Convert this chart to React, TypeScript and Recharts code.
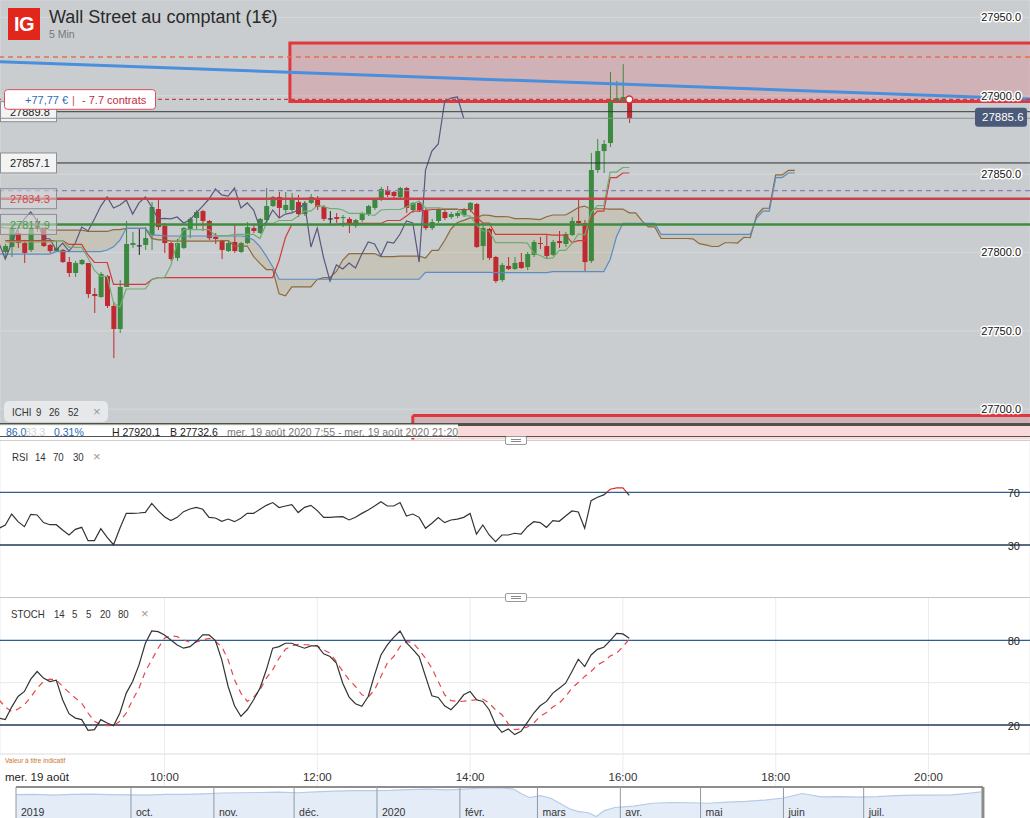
import React from 'react';
import {
  ComposedChart, AreaChart, Area, Bar, Line, XAxis, YAxis, CartesianGrid,
  ReferenceLine, ReferenceArea, ReferenceDot,
} from 'recharts';

const FONT = '"Liberation Sans", Arial, Helvetica, sans-serif';

// ---------- axes ----------
const X0 = -0.8324;
const X1 = 160.94;
const timeTicks = [25, 49, 73, 97, 121, 145];
const timeLabels = ['10:00', '12:00', '14:00', '16:00', '18:00', '20:00'];
const dateLabel = 'mer. 19 août';
const priceTicks = [27700, 27750, 27800, 27850, 27900, 27950];
const PRICE_TOP = 27961.05;
const PRICE_BOTTOM = 27690.26;
const rsiTicks = [30, 70];
const stochTicks = [20, 80];

// ---------- candles (5 min, index 0 = 7:55) ----------
const opens = [
  27800.3, 27803.5, 27812.4, 27806.0, 27801.6, 27819.4, 27815.0, 27804.8, 27800.9, 27801.6,
  27793.9, 27786.9, 27792.6, 27793.3, 27773.5, 27771.6, 27785.0, 27765.9, 27751.2, 27778.0,
  27804.8, 27804.5, 27804.8, 27811.1, 27827.7, 27816.9, 27806.0, 27796.5, 27802.9, 27815.0,
  27822.0, 27826.4, 27820.1, 27809.9, 27807.3, 27800.9, 27806.7, 27800.3, 27806.0, 27815.6,
  27812.4, 27820.7, 27829.6, 27835.4, 27827.1, 27827.1, 27832.2, 27824.5, 27831.6, 27834.1,
  27829.0, 27821.7, 27822.6, 27822.0, 27821.4, 27816.9, 27820.7, 27824.5, 27828.4, 27834.1,
  27839.9, 27838.6, 27835.4, 27841.1, 27827.1, 27831.6, 27827.1, 27815.6, 27820.1, 27825.8,
  27822.6, 27823.3, 27823.9, 27827.1, 27830.9, 27804.1, 27815.0, 27797.1, 27782.4, 27791.4,
  27789.5, 27793.9, 27790.7, 27798.4, 27806.0, 27804.1, 27798.4, 27807.3, 27805.4, 27811.1,
  27820.1, 27818.8, 27794.6, 27852.6, 27864.7, 27869.8, 27896.6, 27896.6, 27898.5,
];
const highs = [
  27805.4, 27816.9, 27814.3, 27808.0, 27817.5, 27822.0, 27815.6, 27805.4, 27808.0, 27802.2,
  27797.1, 27794.6, 27795.8, 27793.3, 27777.3, 27787.5, 27785.6, 27768.4, 27782.4, 27820.1,
  27813.1, 27815.6, 27816.2, 27832.2, 27834.7, 27818.8, 27806.7, 27808.6, 27816.2, 27822.6,
  27827.1, 27827.1, 27820.7, 27812.4, 27808.0, 27807.3, 27817.5, 27806.7, 27819.4, 27818.2,
  27822.0, 27841.1, 27836.0, 27838.6, 27838.6, 27837.9, 27836.7, 27832.8, 27837.3, 27836.0,
  27830.3, 27826.4, 27825.2, 27823.9, 27822.6, 27821.4, 27825.8, 27830.3, 27834.7, 27841.8,
  27842.4, 27839.2, 27841.8, 27841.8, 27832.2, 27832.2, 27828.4, 27821.4, 27828.4, 27827.1,
  27825.8, 27826.4, 27828.4, 27832.2, 27831.6, 27818.8, 27815.6, 27797.8, 27793.3, 27797.1,
  27797.1, 27799.7, 27800.3, 27808.0, 27809.9, 27811.8, 27808.0, 27813.7, 27813.1, 27822.6,
  27834.7, 27820.7, 27863.5, 27872.4, 27871.7, 27915.1, 27909.4, 27920.1, 27899.2,
];
const lows = [
  27796.5, 27797.1, 27802.9, 27793.3, 27800.3, 27813.1, 27803.5, 27799.7, 27800.3, 27793.3,
  27784.4, 27784.4, 27792.0, 27771.0, 27761.4, 27771.0, 27764.6, 27732.6, 27748.6, 27778.0,
  27802.9, 27798.4, 27801.6, 27801.6, 27814.3, 27799.7, 27794.6, 27794.6, 27802.2, 27809.2,
  27814.3, 27813.7, 27808.0, 27805.4, 27795.8, 27800.3, 27799.7, 27799.7, 27805.4, 27812.4,
  27811.8, 27818.8, 27829.0, 27822.0, 27825.2, 27825.8, 27822.6, 27823.3, 27830.9, 27827.1,
  27820.1, 27817.5, 27818.8, 27816.2, 27812.4, 27815.6, 27819.4, 27823.3, 27827.1, 27832.8,
  27835.4, 27834.7, 27834.7, 27825.2, 27825.2, 27825.8, 27814.3, 27814.3, 27818.8, 27820.7,
  27821.4, 27822.0, 27822.6, 27825.8, 27802.9, 27795.2, 27795.2, 27780.5, 27781.2, 27788.8,
  27788.8, 27789.5, 27788.8, 27797.1, 27802.2, 27796.5, 27797.8, 27802.9, 27803.5, 27810.5,
  27816.9, 27787.5, 27793.3, 27850.7, 27850.7, 27867.3, 27896.0, 27896.0, 27882.6,
];
const closes = [
  27804.1, 27815.6, 27806.0, 27799.7, 27815.6, 27815.0, 27804.1, 27800.9, 27802.9, 27793.9,
  27786.9, 27793.3, 27795.2, 27773.5, 27772.2, 27786.3, 27765.9, 27751.2, 27778.0, 27805.4,
  27806.0, 27804.5, 27809.2, 27829.0, 27816.2, 27806.0, 27795.8, 27806.0, 27815.6, 27821.4,
  27825.8, 27820.1, 27809.2, 27808.6, 27801.6, 27806.0, 27800.9, 27806.0, 27816.2, 27813.7,
  27821.4, 27829.6, 27835.4, 27828.4, 27830.3, 27833.5, 27824.5, 27831.6, 27835.4, 27829.0,
  27821.4, 27821.7, 27821.4, 27822.6, 27818.8, 27820.7, 27825.2, 27829.6, 27834.1, 27840.5,
  27836.7, 27836.0, 27841.1, 27828.4, 27831.6, 27827.1, 27815.6, 27819.4, 27827.1, 27822.0,
  27824.5, 27825.2, 27827.1, 27831.6, 27803.5, 27815.6, 27796.5, 27781.8, 27792.0, 27789.5,
  27793.3, 27790.1, 27799.0, 27806.7, 27805.4, 27797.8, 27806.7, 27806.0, 27811.8, 27820.1,
  27818.8, 27793.9, 27852.6, 27864.7, 27869.2, 27896.0, 27898.5, 27899.2, 27885.6,
];

// ---------- Ichimoku 9 / 26 / 52 ----------
const tenkan = [
  27806.7, 27806.7, 27806.7, 27806.7, 27806.7, 27806.7, 27806.7, 27806.7, 27807.6, 27807.6,
  27803.2, 27803.2, 27803.2, 27796.5, 27788.5, 27784.7, 27784.7, 27767.8, 27765.2, 27776.7,
  27776.7, 27776.7, 27776.7, 27782.8, 27784.0, 27784.0, 27791.7, 27806.3, 27814.6, 27814.6,
  27814.6, 27814.6, 27814.6, 27810.8, 27810.8, 27810.8, 27811.5, 27811.5, 27811.5, 27811.5,
  27808.9, 27818.5, 27818.5, 27820.4, 27820.4, 27820.4, 27823.3, 27826.4, 27826.4, 27829.9,
  27829.3, 27828.0, 27828.0, 27827.1, 27824.9, 27824.9, 27824.9, 27824.2, 27823.6, 27827.1,
  27827.4, 27827.4, 27827.4, 27829.0, 27830.9, 27832.8, 27828.4, 27828.4, 27828.4, 27828.0,
  27828.0, 27828.0, 27823.3, 27823.3, 27817.5, 27813.7, 27813.7, 27806.3, 27806.3, 27806.3,
  27806.3, 27806.3, 27806.0, 27799.7, 27798.1, 27796.1, 27796.5, 27801.3, 27801.3, 27805.7,
  27811.8, 27811.1, 27825.5, 27829.9, 27829.9, 27851.3, 27851.3, 27854.2, 27854.2,
];
const kijun = [
  27807.6, 27807.6, 27807.6, 27807.6, 27807.6, 27807.6, 27807.6, 27807.6, 27807.6, 27807.6,
  27805.1, 27805.1, 27805.1, 27798.4, 27793.6, 27793.6, 27793.6, 27779.6, 27779.6, 27779.6,
  27779.6, 27779.6, 27779.6, 27782.8, 27784.0, 27784.0, 27784.0, 27784.0, 27784.0, 27784.0,
  27784.0, 27784.0, 27784.0, 27784.0, 27784.0, 27784.0, 27784.0, 27784.0, 27784.0, 27784.0,
  27784.0, 27784.0, 27784.0, 27794.9, 27809.5, 27817.8, 27817.8, 27817.8, 27817.8, 27817.8,
  27817.8, 27817.8, 27817.8, 27818.5, 27818.5, 27818.5, 27818.5, 27818.5, 27818.5, 27818.5,
  27820.4, 27820.4, 27820.4, 27823.3, 27826.4, 27826.4, 27826.8, 27827.4, 27827.4, 27827.4,
  27827.4, 27827.4, 27827.4, 27827.4, 27822.6, 27818.8, 27818.8, 27811.5, 27811.5, 27811.5,
  27811.5, 27811.5, 27811.5, 27811.5, 27811.5, 27811.5, 27811.1, 27811.1, 27811.1, 27806.3,
  27807.6, 27807.6, 27822.0, 27826.4, 27826.4, 27847.8, 27847.8, 27850.7, 27850.7,
];
// senkou spans, index 0 = bar -1, up to bar 124
const spanA = [
  27816.4, 27815.6, 27815.6, 27815.6, 27815.6, 27815.6, 27815.6, 27815.6, 27814.3, 27814.3,
  27814.3, 27814.3, 27814.3, 27814.3, 27813.4, 27813.4, 27813.4, 27813.4, 27814.6, 27814.6,
  27815.4, 27815.4, 27815.4, 27815.4, 27809.0, 27808.0, 27808.0, 27807.2, 27807.2, 27807.2,
  27807.2, 27807.2, 27807.2, 27807.2, 27807.2, 27807.6, 27807.6, 27804.1, 27804.1, 27804.1,
  27797.4, 27793.0, 27789.1, 27789.1, 27773.6, 27772.4, 27778.1, 27778.1, 27778.1, 27778.1,
  27782.8, 27784.0, 27784.0, 27787.9, 27795.2, 27799.3, 27799.3, 27799.3, 27799.3, 27799.3,
  27797.4, 27797.4, 27797.4, 27797.7, 27797.7, 27797.7, 27797.7, 27796.5, 27801.3, 27801.3,
  27807.6, 27815.0, 27819.1, 27820.5, 27822.1, 27822.1, 27823.9, 27823.6, 27822.9, 27822.9,
  27822.8, 27821.6, 27821.6, 27821.6, 27821.3, 27821.0, 27822.8, 27823.9, 27823.9, 27823.9,
  27826.1, 27828.7, 27829.6, 27827.6, 27827.9, 27827.9, 27827.7, 27827.7, 27827.7, 27825.3,
  27825.3, 27820.1, 27816.3, 27816.3, 27808.9, 27808.9, 27808.9, 27808.9, 27808.9, 27808.7,
  27805.6, 27804.8, 27803.8, 27803.8, 27806.2, 27806.2, 27806.0, 27809.7, 27809.4, 27823.7,
  27828.2, 27828.2, 27849.5, 27849.5, 27852.4, 27852.4,
];
const spanB = [
  27799.0, 27799.0, 27799.0, 27799.0, 27799.0, 27799.0, 27799.0, 27799.0, 27799.0, 27800.5,
  27800.5, 27800.5, 27800.5, 27800.5, 27800.5, 27800.5, 27800.5, 27801.6, 27803.7, 27807.9,
  27815.4, 27815.4, 27815.4, 27815.4, 27811.1, 27811.1, 27810.5, 27810.5, 27810.5, 27810.5,
  27810.5, 27810.5, 27810.5, 27810.5, 27810.5, 27810.5, 27810.5, 27810.5, 27810.5, 27810.0,
  27808.0, 27803.7, 27797.7, 27790.9, 27782.9, 27782.9, 27782.9, 27782.9, 27782.9, 27782.9,
  27782.9, 27782.9, 27782.9, 27782.9, 27782.9, 27782.9, 27782.9, 27782.9, 27782.9, 27782.9,
  27782.9, 27782.9, 27782.9, 27782.9, 27782.9, 27782.9, 27782.9, 27787.3, 27787.3, 27787.3,
  27787.3, 27787.3, 27787.3, 27787.3, 27787.3, 27787.3, 27787.3, 27787.3, 27787.2, 27787.2,
  27787.2, 27787.2, 27787.2, 27787.2, 27787.2, 27787.2, 27787.2, 27787.8, 27787.8, 27787.8,
  27787.8, 27787.8, 27787.8, 27787.8, 27787.8, 27787.8, 27795.5, 27810.2, 27818.5, 27818.5,
  27818.5, 27818.5, 27818.5, 27818.5, 27811.5, 27811.5, 27811.5, 27811.5, 27811.5, 27811.5,
  27811.5, 27811.5, 27811.5, 27811.5, 27811.5, 27811.5, 27811.5, 27811.5, 27811.5, 27822.0,
  27826.4, 27826.4, 27847.8, 27847.8, 27850.7, 27850.7,
];
const CHIKOU_SHIFT = 26;

// ---------- RSI 14 and STOCH 14 5 5 (index 0 = bar -1) ----------
const rsi = [
  42.7, 45.2, 53.5, 47.7, 43.9, 53.3, 52.8, 47.0, 45.4, 45.4,
  41.4, 37.6, 41.9, 43.4, 33.3, 33.3, 42.4, 35.8, 30.2, 42.7,
  54.0, 54.0, 54.3, 54.8, 61.6, 56.1, 51.5, 48.5, 51.0, 55.3,
  57.3, 58.6, 57.1, 51.0, 50.5, 48.0, 49.7, 47.7, 50.3, 54.0,
  54.0, 57.1, 60.1, 62.2, 58.4, 59.6, 60.6, 54.6, 58.6, 60.1,
  56.1, 51.0, 51.0, 51.3, 51.5, 49.0, 51.0, 54.0, 56.6, 59.6,
  62.9, 59.6, 59.6, 62.2, 52.0, 53.5, 51.0, 42.7, 46.5, 50.8,
  47.0, 49.0, 49.7, 51.0, 54.0, 38.3, 45.2, 37.6, 32.5, 37.6,
  37.6, 38.9, 38.3, 43.9, 47.7, 47.0, 43.4, 48.5, 48.0, 52.0,
  55.8, 55.1, 42.7, 63.7, 66.2, 68.0, 72.3, 73.3, 73.3, 67.7,
];
const stochK = [
  24.9, 23.8, 32.7, 40.2, 43.8, 52.5, 57.9, 53.2, 50.8, 51.8,
  37.9, 28.0, 24.9, 23.8, 16.2, 16.7, 23.8, 21.4, 19.5, 28.5,
  42.6, 50.8, 62.6, 77.9, 86.6, 86.1, 83.8, 80.2, 76.7, 74.4,
  75.5, 79.1, 83.8, 83.8, 79.8, 66.1, 47.3, 33.6, 26.1, 30.8,
  37.9, 46.1, 59.1, 74.4, 75.5, 77.9, 77.9, 76.0, 74.4, 76.0,
  76.0, 70.4, 68.5, 63.8, 49.6, 39.8, 35.1, 33.2, 40.2, 55.5,
  69.6, 76.7, 82.1, 86.6, 78.4, 73.6, 68.5, 54.4, 40.7, 39.5,
  33.6, 30.8, 35.5, 41.4, 43.8, 37.9, 36.7, 30.8, 20.2, 14.8,
  17.2, 13.2, 15.5, 21.9, 28.5, 33.6, 36.7, 42.6, 46.1, 49.6,
  57.9, 66.6, 61.4, 69.6, 73.6, 75.1, 79.8, 84.9, 84.5, 81.4,
];
const stochD = [
  37.9, 32.7, 29.6, 31.3, 34.4, 39.8, 46.1, 50.8, 52.5, 52.0,
  47.3, 43.1, 39.1, 35.5, 28.5, 22.6, 20.2, 19.5, 19.5, 22.6,
  28.5, 37.9, 46.1, 57.9, 66.1, 74.4, 81.4, 83.3, 82.6, 80.2,
  78.6, 78.8, 80.2, 81.4, 79.1, 75.5, 66.1, 52.0, 42.6, 36.7,
  39.8, 44.9, 53.2, 59.1, 67.3, 73.6, 76.0, 77.2, 76.9, 76.7,
  76.0, 73.2, 70.8, 64.9, 57.9, 52.0, 47.3, 41.4, 39.8, 44.9,
  54.4, 63.8, 68.5, 75.5, 79.1, 78.4, 73.2, 67.3, 60.2, 50.8,
  41.4, 37.2, 36.7, 36.9, 37.4, 37.9, 38.4, 35.5, 30.8, 27.3,
  20.9, 16.7, 17.2, 18.6, 21.4, 26.1, 28.9, 32.7, 35.5, 40.2,
  46.1, 50.1, 54.4, 57.9, 62.6, 64.9, 68.9, 70.8, 75.5, 80.7,
];

// ---------- drawn levels ----------
const levelOrangeDash = 27924.7;
const levelPosition = 27897.6;
const levelHidden = 27889.8;
const levelLast = 27885.6;
const levelBlack = 27857.1;
const levelPurpleDash = 27839.4;
const levelRed = 27834.3;
const levelGreen = 27817.9;
const trendFrom = 27921.7;
const trendTo = 27897.9;
const zoneTop = { x1: 44.7, y1: 27896.3, y2: 27933.6 };
const zoneBottom = { x1: 64.0, y1: 27680.7, y2: 27696.0 };
const lastBar = 98;

// ---------- navigator ----------
const navDays = [0, 7, 14, 21, 28, 35, 42, 49, 56, 63, 70, 77, 84, 91, 98, 105, 112, 119, 126, 133, 140, 147, 154, 161, 168, 175, 182, 186, 189, 192, 196, 200, 203, 207, 210, 214, 217, 220, 224, 231, 238, 245, 252, 259, 266, 273, 280, 287, 294, 301, 308, 315, 322, 329, 336, 343, 350, 357, 361];
const navValues = [26900, 27000, 26700, 27000, 27100, 26900, 26800, 26700, 27000, 27000, 27200, 27500, 27600, 27700, 27800, 27600, 27900, 28200, 28400, 28400, 28500, 28800, 29000, 28700, 29000, 29400, 29400, 29000, 27200, 25800, 26500, 25500, 23800, 21500, 20500, 20000, 18600, 20800, 22000, 22500, 23600, 23900, 23800, 23600, 24000, 24300, 24800, 25600, 27300, 26000, 26100, 25900, 26100, 26500, 26700, 26700, 26800, 27500, 27900];
const navTicks = [0, 43, 74, 104, 135, 166, 195, 226, 256, 287, 317];
const navLabels = ['2019', 'oct.', 'nov.', 'déc.', '2020', 'févr.', 'mars', 'avr.', 'mai', 'juin', 'juil.'];
const NAV_END = 361.6;
const NAV_MAX = 29780;
const NAV_MIN = 14588;

// ---------- tables ----------
const rows: any[] = [];
for (let i = -1; i <= 124; i++) {
  const has = i >= 0 && i < closes.length;
  const k = i + 1;
  const a = spanA[k];
  const b = spanB[k];
  const ch = i + CHIKOU_SHIFT;
  rows.push({
    i,
    o: has ? opens[i] : null,
    h: has ? highs[i] : null,
    l: has ? lows[i] : null,
    c: has ? closes[i] : null,
    range: has ? [lows[i], highs[i]] : null,
    tenkan: has ? tenkan[i] : null,
    kijun: has ? kijun[i] : null,
    chikou: ch >= 0 && ch < closes.length ? closes[ch] : null,
    spanA: a ?? null,
    spanB: b ?? null,
    cloud: a != null && b != null ? [a, b] : null,
    rsi: k < rsi.length ? rsi[k] : null,
    stochK: k < stochK.length ? stochK[k] : null,
    stochD: k < stochD.length ? stochD[k] : null,
  });
}
const navRows = navDays.map((d, n) => ({ d, v: navValues[n] }));
const rsiMax = Math.max(...rsi);
const rsiMin = Math.min(...rsi);
const rsiOff = (rsiMax - 70) / (rsiMax - rsiMin);

// ---------- colours ----------
const BG = '#c9cdd0';
const UP = '#3b8a3f';
const DOWN = '#bf2a30';
const DOJI = '#222';

// ---------- shapes ----------
const Candle = (props: any) => {
  const { x, width, payload } = props;
  let { y, height } = props;
  if (!payload || payload.o == null || x == null) return null;
  if (height < 0) { y += height; height = -height; }
  const { o, h, l, c } = payload;
  const span = h - l;
  const k = span > 0 ? height / span : 0;
  const py = (v: number) => y + (h - v) * k;
  const top = py(Math.max(o, c));
  const bot = py(Math.min(o, c));
  const color = c > o ? UP : c < o ? DOWN : DOJI;
  const cx = x + width / 2;
  return (
    <g>
      <line x1={cx} x2={cx} y1={y} y2={y + height} stroke={color} strokeWidth={1} />
      <rect x={x} y={top} width={width} height={Math.max(bot - top, 1)} fill={color} />
    </g>
  );
};

const ZoneBox = (props: any) => {
  const { x, y, width, height } = props;
  return (
    <g>
      <rect x={x} y={y} width={width} height={height} fill="rgba(230,80,90,0.22)" />
      <rect x={x} y={y} width={width} height={height} fill="none" stroke="#df373d" strokeWidth={3} />
    </g>
  );
};
const ZoneOpen = (props: any) => {
  const { x, y, width, height } = props;
  return (
    <g>
      <rect x={x} y={y} width={width} height={height} fill="rgba(230,80,90,0.22)" />
      <line x1={x} x2={x + width} y1={y} y2={y} stroke="#df373d" strokeWidth={3} />
      <line x1={x} x2={x} y1={y} y2={y + height} stroke="#df373d" strokeWidth={3} />
    </g>
  );
};

const LeftTag = (p: any, text: string, color: string, bg: string) => {
  const vb = p.viewBox || {};
  const y = vb.y;
  const x0 = vb.x || 0;
  return (
    <g>
      <rect x={x0 + 0.5} y={y - 10} width={56} height={20} fill={bg} stroke="#8c8f92" strokeWidth={1} />
      <text x={x0 + 10} y={y + 0.5} dominantBaseline="central" fontSize={11} fontFamily={FONT} fill={color}>{text}</text>
    </g>
  );
};
const RightTag = (p: any, text: string) => {
  const vb = p.viewBox || {};
  const xr = (vb.x || 0) + (vb.width || 0);
  const y = vb.y;
  return (
    <g>
      <rect x={xr - 55} y={y - 10.5} width={52} height={19} rx={3} fill="#4a5a78" />
      <text x={xr - 48} y={y - 1} dominantBaseline="central" fontSize={11.5} fontFamily={FONT} fill="#fff">{text}</text>
    </g>
  );
};
const PnlTag = (p: any) => {
  const vb = p.viewBox || {};
  const y = vb.y;
  const x0 = vb.x || 0;
  return (
    <g>
      <rect x={x0 + 4.5} y={y - 9.8} width={151} height={19.6} rx={3} fill="#fff" stroke="#d8505c" strokeWidth={1} />
      <text y={y + 0.5} dominantBaseline="central" fontSize={11} fontFamily={FONT}>
        <tspan x={x0 + 25} fill="#2f6cb3">+77,77 €</tspan>
        <tspan x={x0 + 72} fill="#d04a58">|</tspan>
        <tspan x={x0 + 82} fill="#c52b3c">- 7.7 contrats</tspan>
      </text>
    </g>
  );
};

const PriceTick = (props: any) => {
  const { y, payload } = props;
  return (
    <text x={1021} y={y} textAnchor="end" dominantBaseline="central" fontSize={11} fontFamily={FONT}
      fill="#111" stroke="#fff" strokeWidth={3} strokeLinejoin="round" paintOrder="stroke">
      {Number(payload.value).toFixed(1)}
    </text>
  );
};
const SideTick = (props: any) => {
  const { y, payload } = props;
  return (
    <text x={1020} y={y + 1} textAnchor="end" dominantBaseline="central" fontSize={11} fontFamily={FONT} fill="#222">
      {payload.value}
    </text>
  );
};
const TimeTick = (props: any) => {
  const { x, y, payload } = props;
  const idx = timeTicks.indexOf(payload.value);
  if (idx < 0) {
    return (
      <text x={x + 5} y={y + 22.5} dominantBaseline="central" fontSize={11.5} fontFamily={FONT} fill="#222">{dateLabel}</text>
    );
  }
  return (
    <g>
      <line x1={x} x2={x} y1={y} y2={y + 33} stroke="#ececec" strokeWidth={1} />
      <text x={x} y={y + 22.5} textAnchor="middle" dominantBaseline="central" fontSize={11.5} fontFamily={FONT} fill="#333">{timeLabels[idx]}</text>
    </g>
  );
};
const NavTick = (props: any) => {
  const { x, y, payload } = props;
  const idx = navTicks.indexOf(payload.value);
  return (
    <g>
      <line x1={x} x2={x} y1={y - 40} y2={y} stroke="#8e9aa8" strokeWidth={1} />
      <text x={x + 5} y={y - 15} dominantBaseline="central" fontSize={10.5} fontFamily={FONT} fill="#333">{navLabels[idx]}</text>
    </g>
  );
};

// ---------- panels ----------
const MainChart = () => (
  <ComposedChart width={1030} height={440} data={rows} margin={{ top: 0, right: 0, bottom: 0, left: 0 }}>
    <CartesianGrid fill={BG} stroke="#d6d9db" strokeWidth={1} />
    <Area dataKey="cloud" stroke="none" fill="rgba(190,160,100,0.35)" isAnimationActive={false} />
    <Line dataKey="spanA" stroke="#8b6b3d" strokeWidth={1.2} dot={false} isAnimationActive={false} />
    <Line dataKey="spanB" stroke="#5b8cc4" strokeWidth={1.2} dot={false} isAnimationActive={false} />
    <ReferenceLine segment={[{ x: X0, y: trendFrom }, { x: X1, y: trendTo }]} stroke="#4a8fdc" strokeWidth={3} ifOverflow="hidden" />
    <ReferenceLine y={levelOrangeDash} stroke="#e2704f" strokeWidth={1.3} strokeDasharray="5 4" />
    <ReferenceArea x1={zoneTop.x1} x2={163} y1={zoneTop.y1} y2={zoneTop.y2} ifOverflow="hidden" shape={ZoneBox} />
    <ReferenceArea x1={zoneBottom.x1} x2={163} y1={zoneBottom.y1} y2={zoneBottom.y2} ifOverflow="visible" shape={ZoneOpen} />
    <Line dataKey="chikou" stroke="#5a587c" strokeWidth={1.2} dot={false} isAnimationActive={false} />
    <Line dataKey="kijun" stroke="#d03c3c" strokeWidth={1.2} dot={false} isAnimationActive={false} />
    <Line dataKey="tenkan" stroke="#6fae6f" strokeWidth={1.2} dot={false} isAnimationActive={false} />
    <Bar dataKey="range" barSize={5} shape={Candle} isAnimationActive={false} />
    <ReferenceLine y={levelHidden} stroke="#3b3b3b" strokeWidth={1} label={(p: any) => LeftTag(p, '27889.8', '#222', '#f3f3f3')} />
    <ReferenceLine y={levelLast} stroke="#878f98" strokeWidth={1} label={(p: any) => RightTag(p, '27885.6')} />
    <ReferenceLine y={levelPosition} stroke="#c8414a" strokeWidth={1.2} strokeDasharray="4 3" label={(p: any) => PnlTag(p)} />
    <ReferenceLine y={levelBlack} stroke="#2e2e2e" strokeWidth={1} label={(p: any) => LeftTag(p, '27857.1', '#222', '#f3f3f3')} />
    <ReferenceLine y={levelPurpleDash} stroke="#8c7fb8" strokeWidth={1.3} strokeDasharray="5 4" />
    <ReferenceLine y={levelRed} stroke="#c8414a" strokeWidth={2.5} label={(p: any) => LeftTag(p, '27834.3', '#d24a4a', 'rgba(214,216,218,0.55)')} />
    <ReferenceLine y={levelGreen} stroke="#3f8c3f" strokeWidth={2.5} label={(p: any) => LeftTag(p, '27817.9', '#4a9a4a', 'rgba(214,216,218,0.55)')} />
    <ReferenceDot x={lastBar} y={levelPosition} r={3.5} fill="#fff" stroke="#d0343c" strokeWidth={1.5} />
    <XAxis type="number" dataKey="i" domain={[X0, X1]} allowDataOverflow ticks={timeTicks} interval={0}
      height={15.5} tick={false} tickLine={false} axisLine={{ stroke: '#4f5249', strokeWidth: 3 }} />
    <YAxis orientation="right" mirror width={60} domain={[PRICE_BOTTOM, PRICE_TOP]} allowDataOverflow
      ticks={priceTicks} interval={0} tick={PriceTick} tickLine={false} axisLine={false} />
  </ComposedChart>
);

const RsiChart = () => (
  <ComposedChart width={1030} height={161} data={rows} margin={{ top: 0, right: 0, bottom: 0, left: 0 }}>
    <defs>
      <linearGradient id="rsiStroke" x1="0" y1="0" x2="0" y2="1">
        <stop offset={0} stopColor="#e2262c" />
        <stop offset={rsiOff} stopColor="#e2262c" />
        <stop offset={rsiOff} stopColor="#333" />
        <stop offset={1} stopColor="#333" />
      </linearGradient>
    </defs>
    <CartesianGrid horizontal={false} stroke="#ececec" />
    <ReferenceLine y={70} stroke="#2b5f96" strokeWidth={1.3} />
    <ReferenceLine y={30} stroke="#243a55" strokeWidth={1.3} />
    <Line dataKey="rsi" stroke="url(#rsiStroke)" strokeWidth={1.2} dot={false} isAnimationActive={false} />
    <XAxis type="number" dataKey="i" domain={[X0, X1]} allowDataOverflow ticks={timeTicks} interval={0}
      height={1} tickSize={0} tick={false} tickLine={false} axisLine={false} />
    <YAxis orientation="right" mirror width={60} domain={[-9.47, 111.97]} allowDataOverflow ticks={rsiTicks}
      interval={0} tick={SideTick} tickLine={false} axisLine={false} />
  </ComposedChart>
);

const StochChart = () => (
  <ComposedChart width={1030} height={189} data={rows} margin={{ top: 0, right: 0, bottom: 0, left: 0 }}>
    <CartesianGrid horizontal={false} stroke="#ececec" />
    <ReferenceLine y={50} stroke="#e9e9e9" strokeWidth={1} />
    <ReferenceLine y={80} stroke="#2b5f96" strokeWidth={1.3} />
    <ReferenceLine y={20} stroke="#243a55" strokeWidth={1.3} />
    <Line dataKey="stochD" stroke="#e8474a" strokeWidth={1.2} strokeDasharray="6 5" dot={false} isAnimationActive={false} />
    <Line dataKey="stochK" stroke="#333" strokeWidth={1.2} dot={false} isAnimationActive={false} />
    <XAxis type="number" dataKey="i" domain={[X0, X1]} allowDataOverflow ticks={[X0, ...timeTicks]} interval={0}
      height={33} tickSize={0} tickMargin={0} tick={TimeTick} tickLine={false} axisLine={{ stroke: '#dcdcdc' }} />
    <YAxis orientation="right" mirror width={60} domain={[-0.54, 109.96]} allowDataOverflow ticks={stochTicks}
      interval={0} tick={SideTick} tickLine={false} axisLine={false} />
  </ComposedChart>
);

const NavChart = () => (
  <AreaChart width={1030} height={42} data={navRows} margin={{ top: 1, right: 0, bottom: 0, left: 16 }}>
    <Area dataKey="v" type="linear" stroke="#b5cce6" strokeWidth={1.2} fill="#e3ecf7" fillOpacity={1} isAnimationActive={false} />
    <ReferenceLine segment={[{ x: 0, y: NAV_MAX }, { x: NAV_END, y: NAV_MAX }]} stroke="#8e8e8e" strokeWidth={2} ifOverflow="visible" />
    <ReferenceLine x={NAV_END} stroke="#8a8a8a" strokeWidth={3} ifOverflow="visible" />
    <XAxis type="number" dataKey="d" domain={[0, 379.2]} allowDataOverflow ticks={navTicks} interval={0}
      height={1} tickSize={0} tickMargin={0} tick={NavTick} tickLine={false} axisLine={false} />
    <YAxis hide domain={[NAV_MIN, NAV_MAX]} allowDataOverflow />
  </AreaChart>
);

const abs = (left: number, top: number, extra: any = {}) => ({ position: 'absolute' as const, left, top, ...extra });

const Handle = ({ top }: { top: number }) => (
  <div style={abs(505, top, { width: 20, height: 7, background: '#fff', border: '1px solid #9a9a9a', borderRadius: 2 })}>
    <div style={abs(5, 2, { width: 10, height: 1, background: '#888' })} />
    <div style={abs(5, 4, { width: 10, height: 1, background: '#888' })} />
  </div>
);

// indicator legends use a condensed face
const Legend = ({ top, items }: { top: number; items: [number, string, string?][] }) => (
  <>
    {items.map(([left, text, color], n) => (
      <div key={n} style={abs(left, top, {
        fontFamily: FONT, fontSize: text === '×' ? 13 : 11.5, lineHeight: '14px', color: color || '#333',
        whiteSpace: 'nowrap', transform: text === '×' ? 'none' : 'scaleX(0.84)', transformOrigin: 'left center',
      })}>{text}</div>
    ))}
  </>
);
// info strip uses the regular face
const Strip = ({ top, items }: { top: number; items: [number, string, string][] }) => (
  <>
    {items.map(([left, text, color], n) => (
      <div key={n} style={abs(left, top, { fontFamily: FONT, fontSize: 10.5, lineHeight: '12px', color, whiteSpace: 'nowrap' })}>{text}</div>
    ))}
  </>
);

export default function App() {
  return (
    <div style={{ position: 'relative', width: 1030, height: 818, overflow: 'hidden', background: '#fff', fontFamily: FONT }}>
      <style>{'html,body{margin:0;padding:0;background:#fff;}'}</style>
      <div style={abs(0, 0)}><MainChart /></div>

      {/* header */}
      <div style={abs(8, 8, { width: 32, height: 32, background: '#e1261c', color: '#fff', fontWeight: 700, fontSize: 20, lineHeight: '32px', textAlign: 'center', letterSpacing: -0.5 })}>IG</div>
      <div style={abs(49, 8, { fontSize: 18, lineHeight: '18px', color: '#2a2a2a', whiteSpace: 'nowrap' })}>Wall Street au comptant (1€)</div>
      <div style={abs(49, 28.5, { fontSize: 10.5, lineHeight: '11px', color: '#777' })}>5 Min</div>

      {/* ichimoku legend */}
      <div style={abs(3.5, 401, { width: 104.5, height: 20.5, background: '#e6e8ea', borderRadius: 5 })} />
      <Legend top={405} items={[[12, 'ICHI'], [36, '9'], [49, '26'], [68, '52'], [93, '×', '#9a9a9a']]} />

      {/* info strip */}
      <div style={abs(0, 423.5, { width: 458, height: 13, background: 'rgba(255,255,255,0.93)', borderTop: '1px solid #a2ab98' })} />
      <Strip top={425.5} items={[[6, '86.0', '#2a6ab0'], [25, '83.3', '#d4d4d4'], [54, '0.31%', '#2a6ab0'], [112, 'H 27920.1', '#222'], [170, 'B 27732.6', '#222'], [227, 'mer. 19 août 2020 7:55 - mer. 19 août 2020 21:20', '#7a7a7a']]} />
      <div style={abs(0, 435.5, { width: 1030, height: 1, background: '#555' })} />

      {/* RSI */}
      <div style={abs(0, 437)}><RsiChart /></div>
      <div style={abs(0, 439.5, { width: 1030, height: 1, background: '#cfcfcf' })} />
      <Handle top={436} />
      <Legend top={449.5} items={[[12, 'RSI'], [35, '14'], [53, '70'], [72.5, '30'], [93, '×', '#9a9a9a']]} />

      {/* STOCH */}
      <div style={abs(0, 597, { width: 1030, height: 1, background: '#c4c4c4' })} />
      <div style={abs(0, 598)}><StochChart /></div>
      <Handle top={593} />
      <Legend top={606.5} items={[[11, 'STOCH'], [54, '14'], [72, '5'], [86, '5'], [100, '20'], [118, '80'], [141, '×', '#9a9a9a']]} />

      <div style={abs(5, 757, { fontSize: 6.5, lineHeight: '7px', color: '#c87533', whiteSpace: 'nowrap' })}>Valeur à titre indicatif</div>

      {/* navigator */}
      <div style={abs(0, 786)}><NavChart /></div>
    </div>
  );
}
